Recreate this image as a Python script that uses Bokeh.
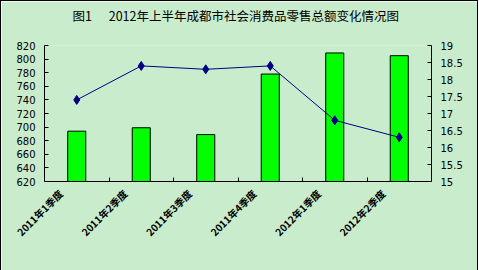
import math
from bokeh.plotting import figure
from bokeh.models import (Range1d, LinearAxis, FixedTicker, Legend, LegendItem,
                          NumeralTickFormatter)
from bokeh.embed import file_html
from bokeh.resources import INLINE

categories = ["2011年1季度", "2011年2季度", "2011年3季度",
              "2011年4季度", "2012年1季度", "2012年2季度"]
quarterly_total = [694, 699, 689, 778, 809, 805]          # 每季总额(亿元)
cumulative_growth = [17.4, 18.4, 18.3, 18.4, 16.8, 16.3]  # 累计增幅(%)
left_ticks = [620, 640, 660, 680, 700, 720, 740, 760, 780, 800, 820]
right_ticks = [15, 15.5, 16, 16.5, 17, 17.5, 18, 18.5, 19]
title_prefix = "图1"
title_text = "2012年上半年成都市社会消费品零售总额变化情况图"

BG = "#C8ECCC"
CJK = "Noto Sans CJK SC"
NUM = "DejaVu Sans"

xs = [i + 0.5 for i in range(len(categories))]
boundaries = [i for i in range(1, len(categories))]
label_pos = [i + 0.25 for i in range(len(categories))]

p = figure(frame_width=387, frame_height=136, x_range=Range1d(0, len(categories)),
           y_range=Range1d(left_ticks[0], left_ticks[-1]),
           output_backend="svg", toolbar_location=None,
           min_border_left=43, min_border_right=46,
           min_border_top=44, min_border_bottom=60,
           styles={"border": "1px solid black"})
p.extra_y_ranges = {"growth": Range1d(right_ticks[0], right_ticks[-1])}
p.background_fill_color = BG
p.border_fill_color = BG
p.outline_line_color = None
p.xgrid.visible = False
p.ygrid.visible = False

p.title.text = title_prefix + "\u00a0" * 6 + title_text + "\n\u00a0"
p.title.text_font = CJK
p.title.text_font_size = "12.5px"
p.title.text_font_style = "normal"
p.title.text_color = "black"
p.title.align = "left"
p.title.offset = 28
p.title.standoff = 3

bars = p.vbar(x=xs, top=quarterly_total, bottom=left_ticks[0], width=0.28,
              fill_color="#00FF00", line_color="black", line_width=1)
line = p.line(xs, cumulative_growth, y_range_name="growth",
              line_color="#000080", line_width=1)
pts = p.scatter(xs, cumulative_growth, y_range_name="growth", marker="diamond",
                size=9, fill_color="#000080", line_color="#000080")

# x axis
xa = p.xaxis[0]
xa.axis_label = None
xa.ticker = FixedTicker(ticks=label_pos, minor_ticks=boundaries)
xa.major_label_overrides = {x: c for x, c in zip(label_pos, categories)}
xa.major_label_orientation = math.pi / 4
xa.major_label_text_font = CJK
xa.major_label_text_font_style = "bold"
xa.major_label_text_font_size = "10px"
xa.major_label_text_color = "black"
xa.major_tick_in = 0
xa.major_tick_out = 0
xa.minor_tick_in = 4
xa.minor_tick_out = 0
xa.axis_line_color = "black"
xa.major_label_standoff = 10

# left axis
ya = p.yaxis[0]
ya.axis_label = None
ya.ticker = FixedTicker(ticks=left_ticks)
ya.major_tick_in = 4
ya.major_tick_out = 0
ya.minor_tick_line_color = None
ya.major_label_text_font = NUM
ya.major_label_text_font_size = "10px"
ya.major_label_text_color = "black"
ya.major_label_standoff = 9
ya.axis_line_color = "black"

# right axis
ra = LinearAxis(y_range_name="growth", ticker=FixedTicker(ticks=right_ticks),
                formatter=NumeralTickFormatter(format="0.[0]"), axis_label=None)
ra.major_tick_in = 4
ra.major_tick_out = 0
ra.minor_tick_line_color = None
ra.major_label_text_font = NUM
ra.major_label_text_font_size = "10px"
ra.major_label_text_color = "black"
ra.major_label_standoff = 9
ra.axis_line_color = "black"
p.add_layout(ra, "right")

legend = Legend(items=[LegendItem(label="每季总额(亿元)", renderers=[bars]),
                       LegendItem(label="累计增幅(%)", renderers=[line, pts])],
                location=(67, 14), orientation="horizontal",
                border_line_color="black", border_line_width=1,
                background_fill_color=BG, background_fill_alpha=1,
                label_text_font=CJK, label_text_font_size="11.5px",
                glyph_width=25, glyph_height=6, label_height=13, label_width=88,
                spacing=13, padding=1, margin=2, label_standoff=5)
p.add_layout(legend, "below")

open("out.html", "w").write(file_html(p, INLINE))
